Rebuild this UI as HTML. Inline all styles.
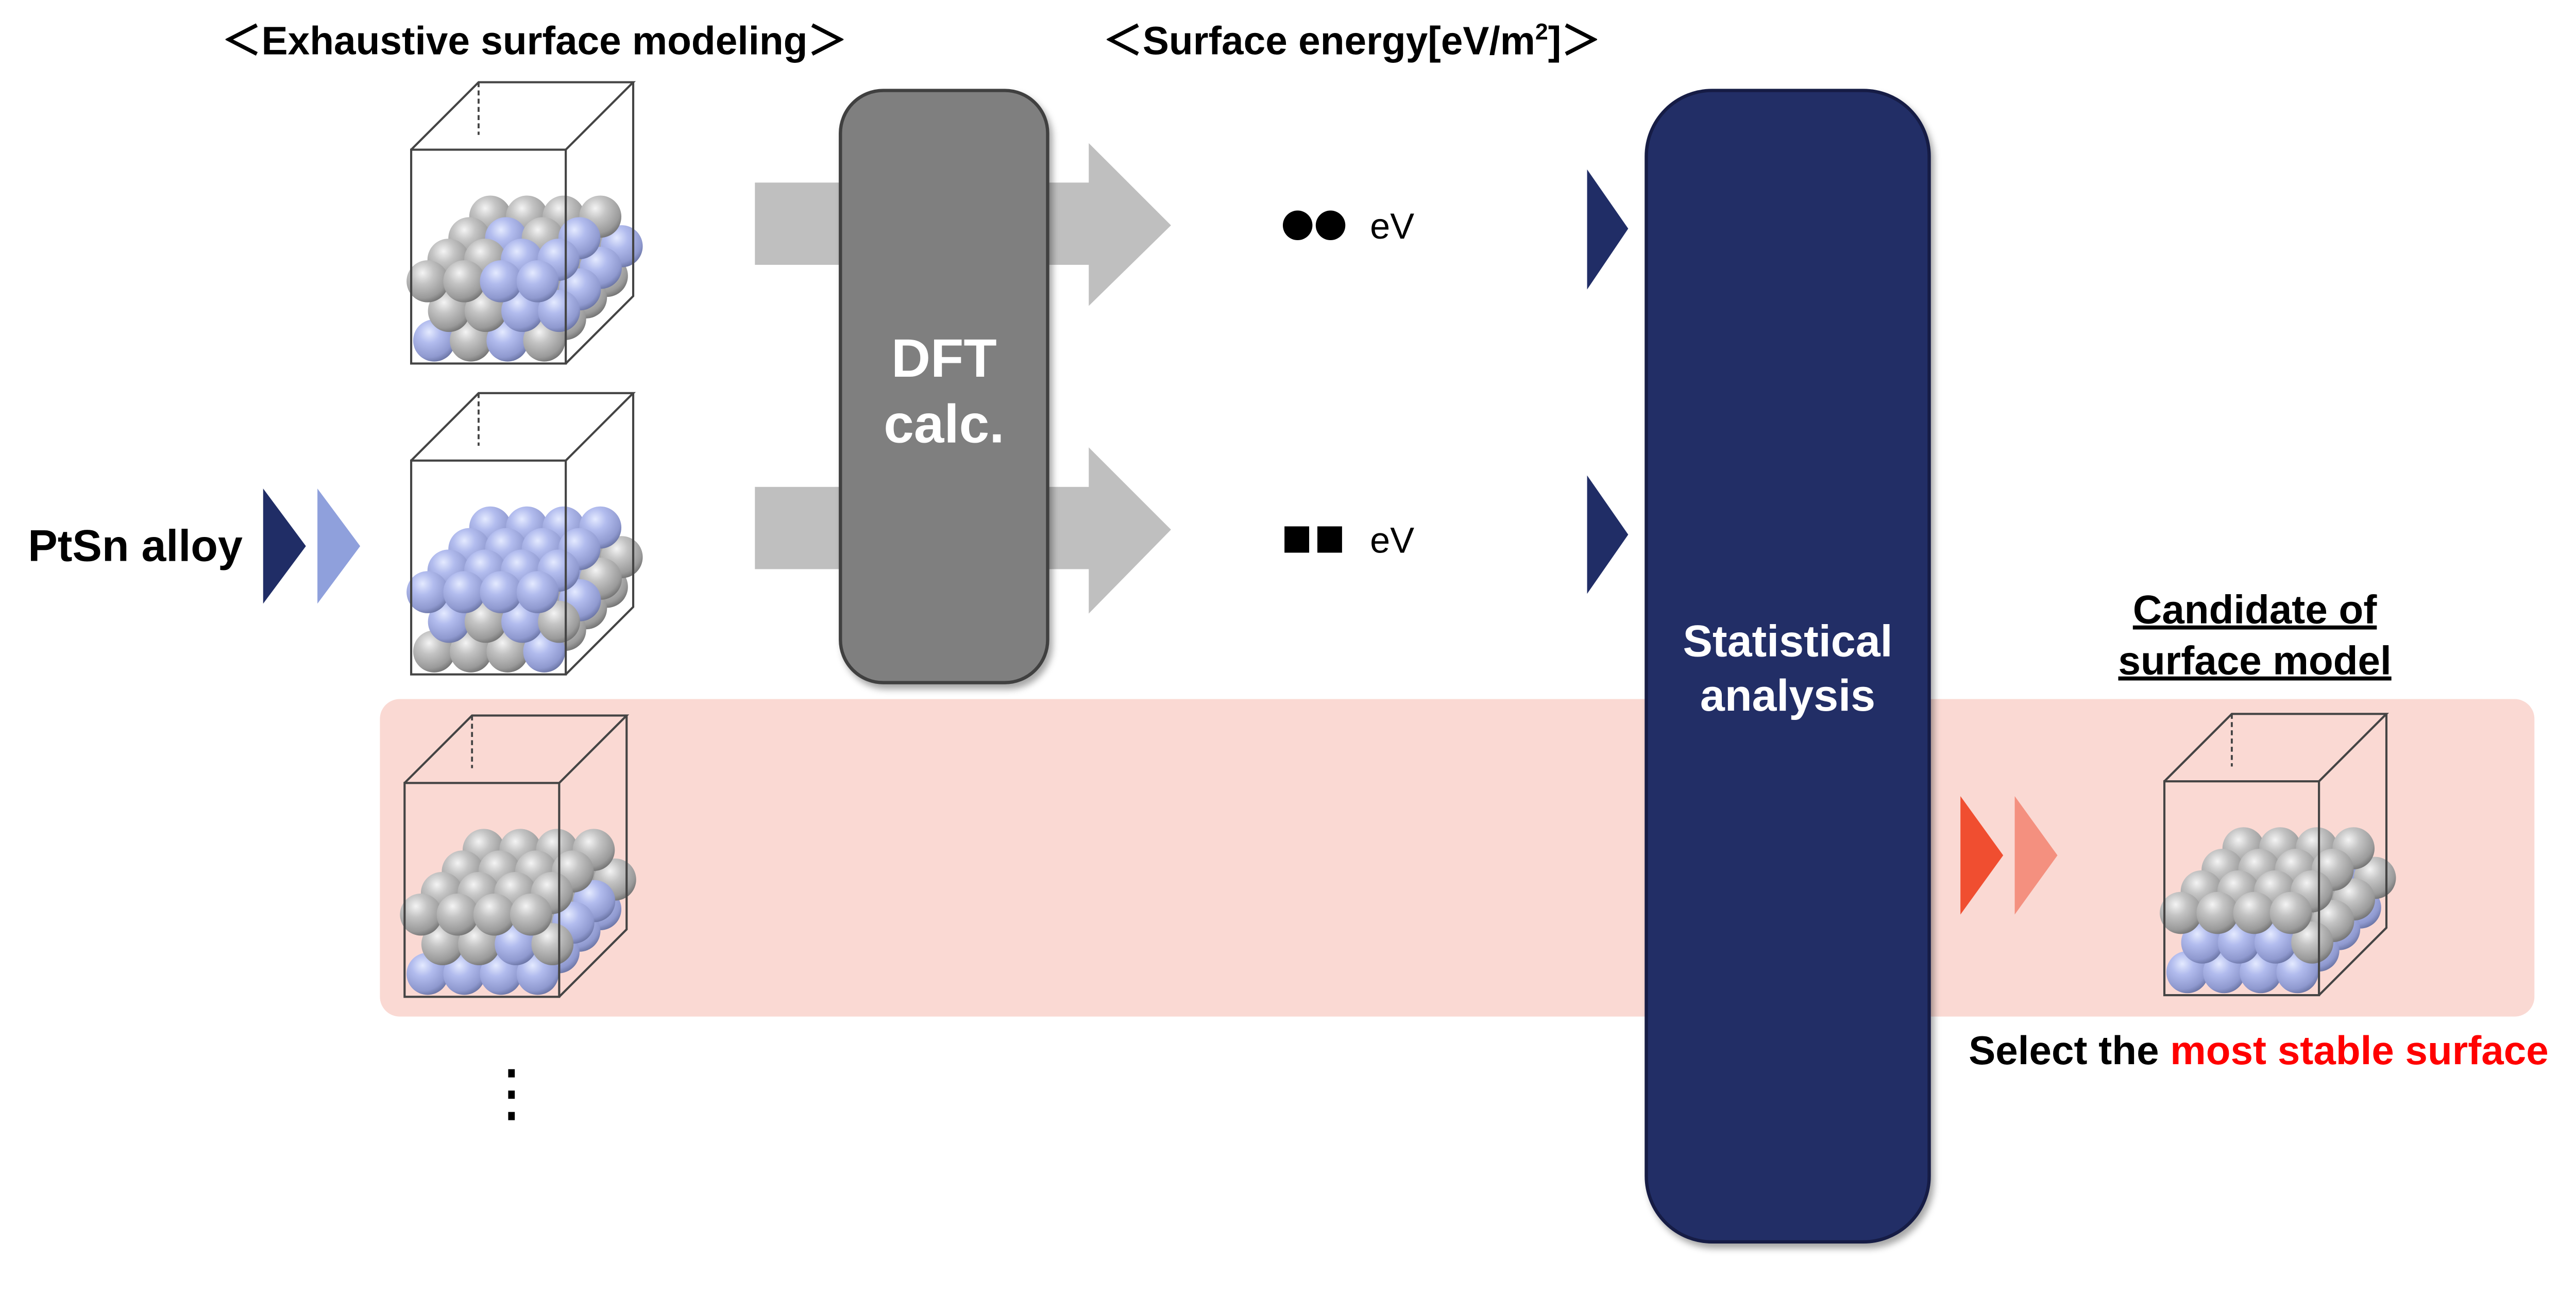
<!DOCTYPE html>
<html><head><meta charset="utf-8"><style>
html,body{margin:0;padding:0;background:#fff;}
svg{display:block;}
text{font-family:"Liberation Sans",Arial,sans-serif;font-weight:bold;}
</style></head><body>
<svg id="s" width="5213" height="2542" viewBox="0 0 1633 796.4" preserveAspectRatio="none" xmlns="http://www.w3.org/2000/svg">
<defs>
<radialGradient id="g" cx="0.38" cy="0.3" r="0.75">
<stop offset="0" stop-color="#f4f4f4"/><stop offset="0.35" stop-color="#c4c4c4"/><stop offset="0.8" stop-color="#9a9a9a"/><stop offset="1" stop-color="#6e6e6e"/></radialGradient>
<radialGradient id="b" cx="0.38" cy="0.3" r="0.75">
<stop offset="0" stop-color="#e4eaff"/><stop offset="0.35" stop-color="#b2bcee"/><stop offset="0.8" stop-color="#8f99cf"/><stop offset="1" stop-color="#66709f"/></radialGradient>
<filter id="sh" x="-20%" y="-20%" width="140%" height="140%"><feDropShadow dx="2" dy="3" stdDeviation="2" flood-color="#000" flood-opacity="0.35"/></filter>
</defs>

<rect x="231" y="425" width="1310" height="193" rx="12" fill="#fad9d3"/>

<text x="325" y="33" font-size="24" text-anchor="middle">＜Exhaustive surface modeling＞</text>
<text x="822" y="33" font-size="24" text-anchor="middle">＜Surface energy[eV/m<tspan font-size="14" dy="-9">2</tspan><tspan dy="9">]＞</tspan></text>

<g fill="#bfbfbf">
<rect x="459" y="111" width="206" height="50"/>
<polygon points="662,87 712,137 662,186"/>
<rect x="459" y="296" width="206" height="50"/>
<polygon points="662,272 712,322 662,373"/>
</g>

<rect x="511" y="55" width="126" height="360" rx="26" fill="#7f7f7f" stroke="#404040" stroke-width="2" filter="url(#sh)"/>
<text x="574" y="229" font-size="33" fill="#fff" text-anchor="middle">DFT</text>
<text x="574" y="269" font-size="33" fill="#fff" text-anchor="middle">calc.</text>

<circle cx="789" cy="137" r="9" fill="#000"/><circle cx="809" cy="137" r="9" fill="#000"/>
<text x="833" y="145" font-size="22" style="font-weight:normal">eV</text>
<rect x="781" y="320" width="15" height="16" fill="#000"/><rect x="801" y="320" width="15" height="16" fill="#000"/>
<text x="833" y="336" font-size="22" style="font-weight:normal">eV</text>

<polygon points="965,103 990,139 965,176" fill="#202d66"/>
<polygon points="965,289 990,325 965,361" fill="#202d66"/>

<rect x="1001" y="55" width="172" height="700" rx="40" fill="#202d66" stroke="#141c44" stroke-width="2" filter="url(#sh)"/>
<text x="1087" y="399" font-size="27" fill="#fff" text-anchor="middle">Statistical</text>
<text x="1087" y="432" font-size="27" fill="#fff" text-anchor="middle">analysis</text>

<text x="17" y="341" font-size="27">PtSn alloy</text>
<polygon points="160,297 186,332 160,367" fill="#202d66"/>
<polygon points="193,297 219,332 193,367" fill="#8fa0dc"/>

<polygon points="1192,484 1218,520 1192,556" fill="#f04e30"/>
<polygon points="1225,484 1251,520 1225,556" fill="#f4907f"/>

<text x="1371" y="379" font-size="24.5" text-anchor="middle" text-decoration="underline">Candidate of</text>
<text x="1371" y="410" font-size="24.5" text-anchor="middle" text-decoration="underline">surface model</text>

<text x="1197" y="647" font-size="24.5">Select the <tspan fill="#ff0000">most stable surface</tspan></text>

<g fill="#000"><rect x="309" y="650" width="4" height="5"/><rect x="309" y="663" width="4" height="5"/><rect x="309" y="676" width="4" height="5"/></g>

<g id="cr"></g>
</svg>
<script>
var NS="http://www.w3.org/2000/svg",cr=document.getElementById("cr");
function el(t,a){var e=document.createElementNS(NS,t);for(var k in a)e.setAttribute(k,a[k]);cr.appendChild(e);return e;}
function crystal(X,Y,pat){
 var D=41,W=94,H=130;
 el("line",{x1:X+D,y1:Y-D,x2:X+D,y2:Y-D+32,stroke:"#444","stroke-width":1.2,"stroke-dasharray":"3,2"});
 var L=[[4,36],[13,18],[0,0]];
 for(var l=0;l<3;l++){for(var j=3;j>=0;j--){for(var i=0;i<4;i++){
  var cx=X+10+i*22.3+j*12.7+L[l][0], cy=Y+80-j*13.1+L[l][1];
  var c=pat(2-l,i,j);
  el("circle",{cx:cx,cy:cy,r:12.8,fill:c?"url(#b)":"url(#g)"});
 }}}
 var st={stroke:"#444","stroke-width":1.3,fill:"none"};
 el("rect",Object.assign({x:X,y:Y,width:W,height:H},st));
 el("polyline",Object.assign({points:[X,Y,X+D,Y-D,X+W+D,Y-D,X+W,Y].join(" ")},st));
 el("polyline",Object.assign({points:[X+W+D,Y-D,X+W+D,Y+H-D,X+W,Y+H].join(" ")},st));
}
function h(a,b,c,s){var v=Math.sin(a*12.9+b*78.2+c*37.7+s)*43758.5;return v-Math.floor(v);}
crystal(250,91,function(l,i,j){return h(l,i,j,1)<0.3;});
crystal(250,280,function(l,i,j){if(l==0)return h(l,i,j,2)<0.9;return h(l,i,j,3)<0.35;});
crystal(246,476,function(l,i,j){if(l==0)return false;if(l==2)return true;return h(l,i,j,4)<0.4;});
crystal(1316,475,function(l,i,j){if(l==0)return false;if(l==2)return true;return h(l,i,j,5)<0.5;});
</script>
</body></html>
